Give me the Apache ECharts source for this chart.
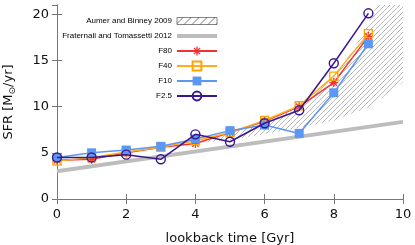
<!DOCTYPE html>
<html><head><meta charset="utf-8">
<script src="https://cdn.jsdelivr.net/npm/echarts@6/dist/echarts.min.js"></script>
<style>html,body{margin:0;padding:0;background:#fff}#c{width:415px;height:245px}</style>
</head><body><div id="c"></div>
<script>
// ---- data ----
const xs   = [0, 1, 2, 3, 4, 5, 6, 7, 8, 9];
const f80  = [4.2, 4.3, 5.0, 5.6, 6.0, 7.2, 8.4, 10.0, 12.6, 17.6];
const f40  = [4.1, 4.5, 5.1, 5.6, 6.3, 7.2, 8.5, 10.1, 13.3, 17.9];
const f10  = [4.5, 5.0, 5.3, 5.7, 6.5, 7.4, 8.0, 7.1, 11.5, 16.8];
const f25  = [4.5, 4.5, 4.8, 4.3, 7.0, 6.2, 8.2, 9.6, 14.7, 20.1];
const fratX = [0, 10];
const fratY = [3.0, 8.35];
const abUpX = [4.2, 5, 6, 7, 8, 8.5, 9, 9.5, 10];
const abUpY = [6.4, 7.1, 8.3, 9.9, 13.5, 15.8, 19.0, 23, 28];
const abLoX = [4.2, 5, 6, 7, 8, 9, 10];
const abLoY = [6.1, 6.4, 7.0, 7.7, 8.5, 9.9, 12.6];
const xTicks = [0, 2, 4, 6, 8, 10];
const yTicks = [0, 5, 10, 15, 20];
const names = ['Aumer and Binney 2009', 'Fraternali and Tomassetti 2012', 'F80', 'F40', 'F10', 'F2.5'];

// ---- hatch patterns ----
function hatch(size, color, lw) {
  const c = document.createElement('canvas');
  c.width = size; c.height = size;
  const g = c.getContext('2d');
  g.strokeStyle = color; g.lineWidth = lw;
  g.beginPath();
  for (let k = -1; k <= 1; k++) {
    g.moveTo(k * size, size); g.lineTo(k * size + size, 0);
  }
  g.stroke();
  return { image: c, repeat: 'repeat' };
}
const patPlot = hatch(5, '#8a8a8a', 0.6);
const patLeg = hatch(8, '#555', 0.8);

const star = 'path://M-1,-0.15L1,-0.15L1,0.15L-1,0.15Z M-0.15,-1L0.15,-1L0.15,1L-0.15,1Z M-0.601,-0.813L0.813,0.601L0.601,0.813L-0.813,-0.601Z M-0.813,0.601L0.601,-0.813L0.813,-0.601L-0.601,0.813Z';

const axisCol = '#777';
const font = 'DejaVu Sans';

function pairs(xa, ya) { return xa.map((x, i) => [x, ya[i]]); }

const chart = echarts.init(document.getElementById('c'), null, { renderer: 'canvas' });
chart.setOption({
  animation: false,
  backgroundColor: '#fff',
  grid: { left: 57, right: 12, top: 5, bottom: 46, outerBoundsMode: 'none', containLabel: false },
  legend: {
    orient: 'vertical', right: 197, top: 13.5, align: 'right', padding: 0,
    itemWidth: 40, itemHeight: 11, itemGap: 0,
    textStyle: { fontFamily: 'Liberation Sans', fontSize: 8, color: '#000', lineHeight: 15 },
    data: [
      { name: names[0], icon: 'path://M0,0L40,0L40,7L0,7Z', itemStyle: { color: patLeg, borderColor: '#333', borderWidth: 0.6 } },
      { name: names[1], icon: 'path://M0,0L40,0L40,4L0,4Z', itemStyle: { color: '#bdbdbd', borderWidth: 0 } },
      names[2], names[3], names[4], names[5]
    ]
  },
  xAxis: [{
    type: 'value', min: xTicks[0], max: xTicks[xTicks.length - 1], interval: 2,
    name: 'lookback time [Gyr]', nameLocation: 'middle', nameGap: 33,
    nameTextStyle: { fontFamily: font, fontSize: 13, color: '#111' },
    axisLine: { lineStyle: { color: axisCol } },
    axisTick: { inside: true, length: 5, lineStyle: { color: axisCol } },
    axisLabel: { margin: 9, fontFamily: font, fontSize: 13, color: '#111' },
    splitLine: { show: false }
  }, {
    type: 'value', position: 'top', min: 0, max: 10, interval: 2,
    axisLine: { show: true, lineStyle: { color: axisCol } },
    axisTick: { inside: true, length: 5, lineStyle: { color: axisCol } },
    axisLabel: { show: false }, splitLine: { show: false }
  }],
  yAxis: [{
    type: 'value', min: 0, max: 21, interval: 5,
    name: 'SFR [M{s|⊙}/yr]', nameLocation: 'middle', nameGap: 40,
    nameTextStyle: { fontFamily: font, fontSize: 13, color: '#111', rich: { s: { fontFamily: font, fontSize: 9, padding: [7, 0, 0, 0], color: '#111' } } },
    axisLine: { show: true, lineStyle: { color: axisCol } },
    axisTick: { inside: true, length: 5, lineStyle: { color: axisCol } },
    axisLabel: { margin: 8, fontFamily: font, fontSize: 13, color: '#111', showMaxLabel: false,
      formatter: v => (yTicks.indexOf(v) >= 0 ? String(v) : '') },
    splitLine: { show: false }
  }, {
    type: 'value', position: 'right', min: 0, max: 21, interval: 5,
    axisLine: { show: true, lineStyle: { color: axisCol } },
    axisTick: { inside: true, length: 5, lineStyle: { color: axisCol } },
    axisLabel: { show: false }, splitLine: { show: false }
  }],
  series: [
    {
      type: 'custom', name: names[0], clip: true, z: 1,
      data: [[abLoX[0], abLoY[0]]],
      itemStyle: { color: patLeg },
      renderItem: function (params, api) {
        const pts = [];
        abUpX.forEach((x, i) => pts.push(api.coord([x, abUpY[i]])));
        for (let i = abLoX.length - 1; i >= 0; i--) pts.push(api.coord([abLoX[i], abLoY[i]]));
        return { type: 'polygon', shape: { points: pts }, style: { fill: patPlot, stroke: null } };
      }
    },
    {
      type: 'line', name: names[1], data: pairs(fratX, fratY), symbol: 'none', z: 2,
      lineStyle: { color: '#bdbdbd', width: 4 }, itemStyle: { color: '#bdbdbd' }
    },
    {
      type: 'line', name: names[2], data: pairs(xs, f80), symbol: star, symbolSize: 9, z: 3,
      lineStyle: { color: '#f53030', width: 1.5 }, itemStyle: { color: '#f53030' }
    },
    {
      type: 'line', name: names[3], data: pairs(xs, f40), symbol: 'rect', symbolSize: 8, z: 4,
      lineStyle: { color: '#ffad1f', width: 1.5 },
      itemStyle: { color: 'rgba(255,255,255,0)', borderColor: '#ffa500', borderWidth: 1.4 }
    },
    {
      type: 'line', name: names[4], data: pairs(xs, f10), symbol: 'rect', symbolSize: 9, z: 5,
      lineStyle: { color: '#5b97f5', width: 1.5 }, itemStyle: { color: '#5b97f5' }
    },
    {
      type: 'line', name: names[5], data: pairs(xs, f25), symbol: 'circle', symbolSize: 9, z: 6,
      lineStyle: { color: '#3a1790', width: 1.5 },
      itemStyle: { color: 'rgba(255,255,255,0)', borderColor: '#3a1790', borderWidth: 1.4 }
    }
  ]
});
</script>
</body></html>
